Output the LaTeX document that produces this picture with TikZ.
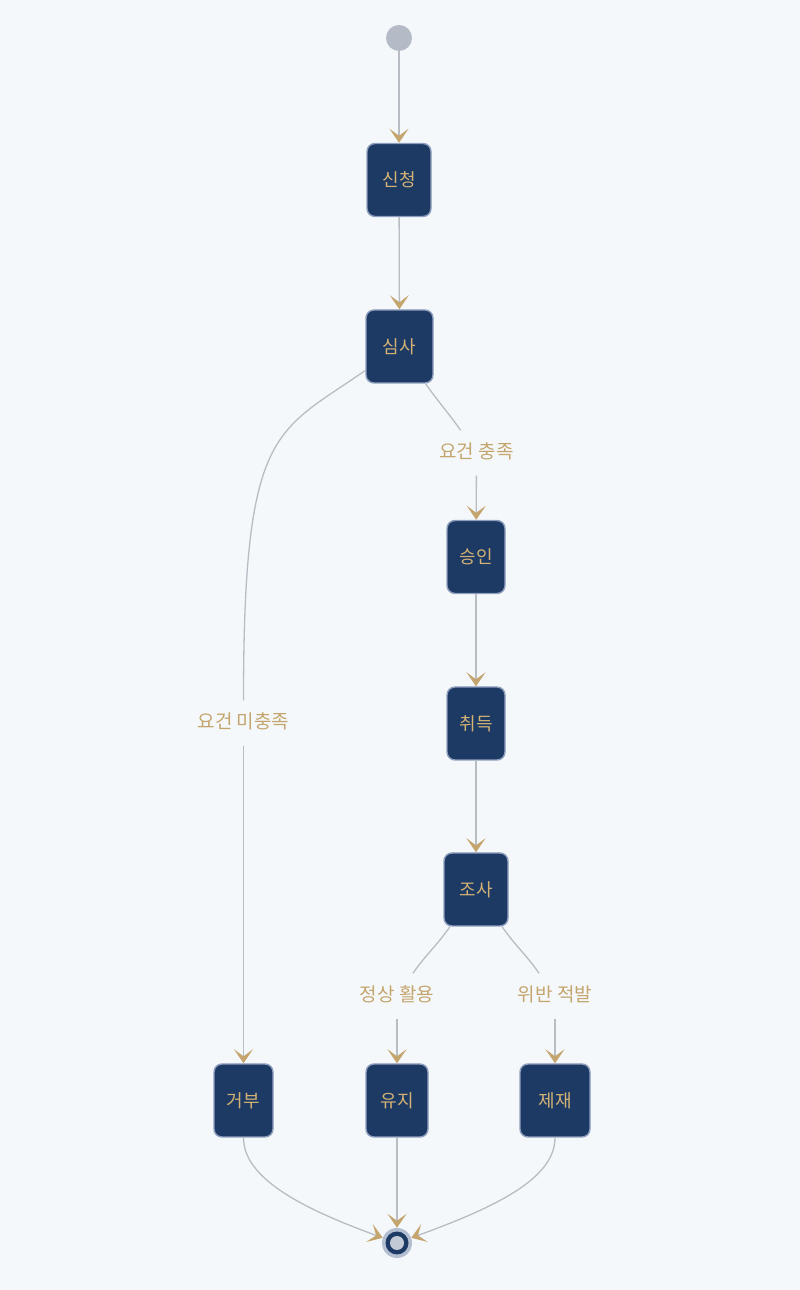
\documentclass[tikz,border=0pt]{standalone}
\usepackage{fontspec}
\newfontfamily\kr{Noto Sans CJK KR}
\usetikzlibrary{arrows.meta}
\definecolor{bg}{HTML}{F5F8FB}
\definecolor{navy}{HTML}{1D3A65}
\definecolor{bord}{HTML}{8E9FBD}
\definecolor{gold}{HTML}{D4B274}
\definecolor{lgold}{HTML}{C4A56D}
\definecolor{lgray}{HTML}{B8BCC3}
\definecolor{dot}{HTML}{B4BBC7}
\definecolor{endouter}{HTML}{B3BED0}
\definecolor{endinner}{HTML}{C3CAD6}
\begin{document}
\begin{tikzpicture}[x=1pt,y=1pt,
  stbox/.style={draw=bord, line width=1.4pt, fill=navy, rounded corners=8pt,
    minimum height=73pt, inner sep=0pt, text=gold,
    font=\kr\fontsize{18}{18}\selectfont},
  lab/.style={text=lgold, font=\kr\fontsize{19}{19}\selectfont,
    text height=14pt, text depth=3pt, inner xsep=4pt, inner ysep=14pt},
  edge/.style={draw=lgray, line width=1.3pt,
    -{Stealth[length=14pt,width=19pt,inset=7pt,color=lgold]}},
  plain/.style={draw=lgray, line width=1.3pt}]
\fill[bg] (0,0) rectangle (800,1290);
\useasboundingbox (0,0) rectangle (800,1290);

\node[circle, fill=dot, minimum size=26pt, inner sep=0pt] (start) at (399,1252) {};
\node[stbox, minimum width=64pt] (sincheong) at (399,1110) {신청};
\node[stbox, minimum width=67pt] (simsa) at (399.5,943.5) {심사};
\node[stbox, minimum width=58pt] (seungin) at (476,733) {승인};
\node[stbox, minimum width=58pt] (chwideuk) at (476,566.5) {취득};
\node[stbox, minimum width=64pt] (josa) at (476,400.5) {조사};
\node[stbox, minimum width=59pt] (geobu) at (243.5,189.5) {거부};
\node[stbox, minimum width=62pt] (yuji) at (397,189.5) {유지};
\node[stbox, minimum width=70pt] (jeje) at (555,189.5) {제재};
\node[circle, fill=endouter, minimum size=30pt, inner sep=0pt] (end) at (397,47) {};
\fill[navy] (end.center) circle (11.5pt);
\fill[endinner] (end.center) circle (7pt);

\node[lab] (l1) at (476.5,837) {요건 충족};
\node[lab] (l2) at (243.5,567) {요건 미충족};
\node[lab] (l3) at (397,294) {정상 활용};
\node[lab] (l4) at (555,294) {위반 적발};

\draw[edge] (start) -- (sincheong);
\draw[edge] (sincheong) -- (simsa);
\draw[plain] (simsa) to[out=-55,in=125] (l1);
\draw[edge] (l1) -- (seungin);
\draw[plain] (simsa) to[out=-145,in=90,out looseness=0.8,in looseness=2] (l2);
\draw[edge] (l2) -- (geobu);
\draw[edge] (seungin) -- (chwideuk);
\draw[edge] (chwideuk) -- (josa);
\draw[plain] (josa) to[out=-125,in=55] (l3);
\draw[edge] (l3) -- (yuji);
\draw[plain] (josa) to[out=-55,in=125] (l4);
\draw[edge] (l4) -- (jeje);
\draw[edge] (geobu) to[out=-90,in=160,out looseness=0.6,in looseness=1.3] (end);
\draw[edge] (yuji) -- (end);
\draw[edge] (jeje) to[out=-90,in=20,out looseness=0.6,in looseness=1.3] (end);
\end{tikzpicture}
\end{document}
